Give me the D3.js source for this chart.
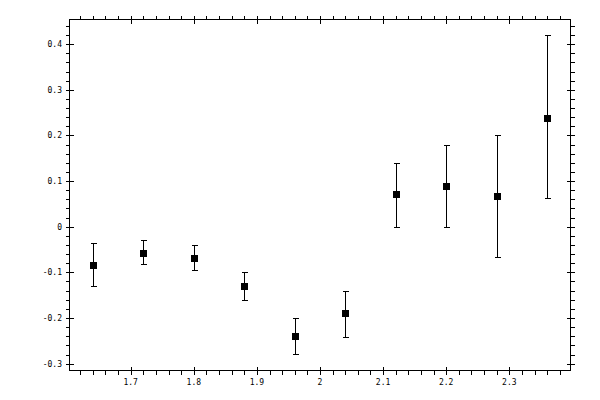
<!DOCTYPE html>
<html>
<head>
<meta charset="utf-8">
<script src="https://cdn.jsdelivr.net/npm/d3@7.9.0/dist/d3.min.js"></script>
<style>
  body { margin: 0; background: #fff; }
  svg { display: block; }
  text { font-family: "DejaVu Sans Mono", monospace; font-size: 8px; fill: #000; }
</style>
</head>
<body>
<svg width="600" height="400"></svg>
<script>
// data
const xs = [1.64, 1.72, 1.80, 1.88, 1.96, 2.04, 2.12, 2.20, 2.28, 2.36];
const ys = [-0.083, -0.057, -0.068, -0.129, -0.239, -0.190, 0.071, 0.090, 0.068, 0.239];
const yHi = [-0.036, -0.029, -0.041, -0.100, -0.201, -0.140, 0.140, 0.180, 0.201, 0.420];
const yLo = [-0.129, -0.082, -0.094, -0.160, -0.278, -0.241, 0.000, 0.000, -0.067, 0.062];
const xTickLabels = ['1.7', '1.8', '1.9', '2', '2.1', '2.2', '2.3'];
const yTickLabels = ['-0.3', '-0.2', '-0.1', '0', '0.1', '0.2', '0.3', '0.4'];

const svg = d3.select('svg');
const L = 69.5, R = 570.5, T = 19.5, B = 370.5;

let x = d3.scaleLinear().domain([1.603, 2.397]).range([L, R]);
let y = d3.scaleLinear().domain([-0.315, 0.454]).range([B, T]);

const g = svg.append('g').attr('shape-rendering', 'crispEdges');

// frame
g.append('rect')
    .attr('x', L).attr('y', T)
    .attr('width', R - L).attr('height', B - T)
    .attr('fill', 'none').attr('stroke', '#000').attr('stroke-width', 1);

const xMajor = xTickLabels.map(Number);
const yMajor = yTickLabels.map(Number);
const xMinor = x.ticks(40).filter(v => !xMajor.some(m => Math.abs(m - v) < 1e-6));
const yMinor = y.ticks(40).filter(v => !yMajor.some(m => Math.abs(m - v) < 1e-6));

function tick(x1, y1, x2, y2) {
    g.append('line')
        .attr('x1', x1).attr('y1', y1).attr('x2', x2).attr('y2', y2)
        .attr('stroke', '#000').attr('stroke-width', 1);
}

// x ticks, bottom + top
xMinor.forEach(v => {
    let px = Math.round(x(v)) + 0.5;
    tick(px, B, px, B + 4);
    tick(px, T, px, T - 4);
});
xMajor.forEach(v => {
    let px = Math.round(x(v)) + 0.5;
    tick(px, B - 4, px, B + 4);
    tick(px, T - 4, px, T + 4);
});

// y ticks, left + right
yMinor.forEach(v => {
    let py = Math.round(y(v)) + 0.5;
    tick(L - 4, py, L, py);
    tick(R, py, R + 4, py);
});
yMajor.forEach(v => {
    let py = Math.round(y(v)) + 0.5;
    tick(L - 4, py, L + 4, py);
    tick(R - 4, py, R + 4, py);
});

// tick labels
svg.append('g').selectAll('text')
    .data(xTickLabels)
    .join('text')
    .attr('x', d => x(+d))
    .attr('y', 384.5)
    .attr('text-anchor', 'middle')
    .text(d => d);

svg.append('g').selectAll('text')
    .data(yTickLabels)
    .join('text')
    .attr('x', 62)
    .attr('y', d => y(+d) + 3)
    .attr('text-anchor', 'end')
    .text(d => d);

// error bars
const bars = svg.append('g').attr('shape-rendering', 'crispEdges');
xs.forEach((xv, i) => {
    let px = Math.round(x(xv)) + 0.5;
    bars.append('line')
        .attr('x1', px).attr('x2', px)
        .attr('y1', y(yHi[i])).attr('y2', y(yLo[i]))
        .attr('stroke', '#000');
    [yHi[i], yLo[i]].forEach(v => {
        let py = Math.round(y(v)) + 0.5;
        bars.append('line')
            .attr('x1', px - 3).attr('x2', px + 3)
            .attr('y1', py).attr('y2', py)
            .attr('stroke', '#000');
    });
});

// markers
svg.append('g').selectAll('rect')
    .data(xs)
    .join('rect')
    .attr('x', d => Math.round(x(d)) - 3)
    .attr('y', (d, i) => Math.round(y(ys[i])) - 3)
    .attr('width', 7)
    .attr('height', 7)
    .attr('fill', '#000');
</script>
</body>
</html>
